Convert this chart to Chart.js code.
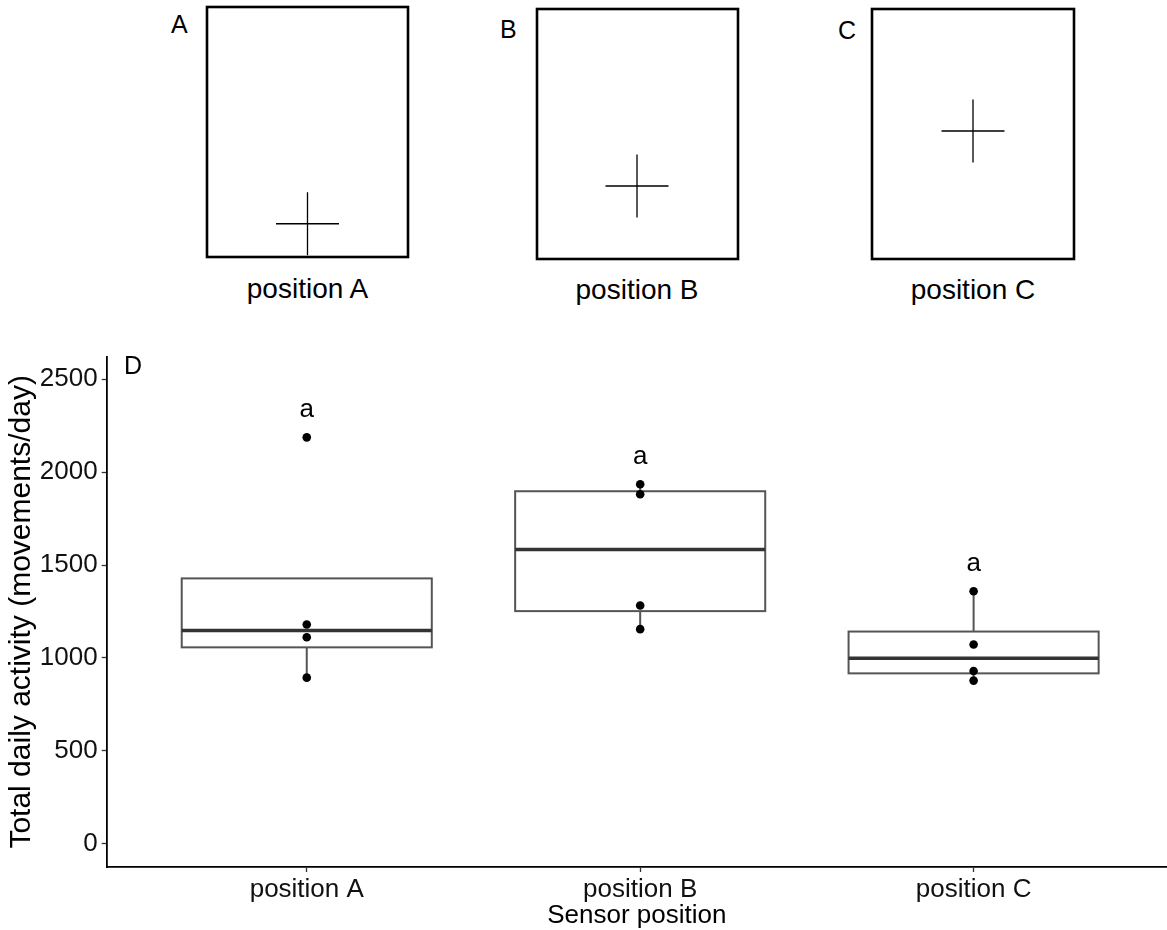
<!DOCTYPE html>
<html>
<head>
<meta charset="utf-8">
<script src="https://cdn.jsdelivr.net/npm/chart.js@4.4.1/dist/chart.umd.min.js"></script>
<style>
  html, body { margin: 0; padding: 0; background: #fff; }
  body { width: 1167px; height: 930px; position: relative; overflow: hidden;
         font-family: "Liberation Sans", Arial, sans-serif; color: #000; }
  .lbl { position: absolute; line-height: 1; white-space: nowrap; }
  canvas { position: absolute; }
</style>
</head>
<body>
<script>
// panel D: boxplot stats per sensor position (movements/day)
const groups = ["position A", "position B", "position C"];
const boxQ1 = [1057, 1252, 917];
const boxMedian = [1148, 1584, 998];
const boxQ3 = [1428, 1897, 1142];
const whiskerLow = [894, 1155, 878];
const whiskerHigh = [1428, 1935, 1359];
const pointsA = [2187, 1180, 1111, 894];
const pointsB = [1935, 1881, 1282, 1155];
const pointsC = [1359, 1072, 930, 878];
const letterText = ["a", "a", "a"];
const letterY = [2335, 2082, 1508];
const yTicks = [0, 500, 1000, 1500, 2000, 2500];

// panels A-C: where the sensor sits on the body outline (0..1 of the box)
const panelLetters = ["A", "B", "C"];
const sensorX = [0.5, 0.4975, 0.5];
const sensorY = [0.133, 0.292, 0.512];

const FONT = "'Liberation Sans', Arial, sans-serif";

function addLabel(text, x, baseline, size, align) {
  const d = document.createElement("div");
  d.className = "lbl";
  d.textContent = text;
  d.style.fontSize = size + "px";
  d.style.top = (baseline - 0.8465 * size) + "px";
  d.style.left = x + "px";
  if (align === "center") d.style.transform = "translateX(-50%)";
  document.body.appendChild(d);
}

function addCanvas(left, top, w, h) {
  const c = document.createElement("canvas");
  c.width = w; c.height = h;
  c.style.left = left + "px"; c.style.top = top + "px";
  c.style.width = w + "px"; c.style.height = h + "px";
  document.body.appendChild(c);
  return c;
}

// ---- top panels ----
const frame = {
  id: "frame",
  afterDraw(chart) {
    const { ctx, chartArea: a } = chart;
    ctx.save();
    ctx.strokeStyle = "#000";
    ctx.lineWidth = 2.6;
    ctx.strokeRect(a.left, a.top, a.right - a.left, a.bottom - a.top);
    ctx.restore();
  },
};

const panelBox = [
  { left: 207, top: 7, w: 201, h: 250 },
  { left: 537, top: 9, w: 201, h: 250 },
  { left: 872, top: 9, w: 202, h: 250 },
];
const pad = 5;

panelBox.forEach((p, i) => {
  const c = addCanvas(p.left - pad, p.top - pad, p.w + 2 * pad, p.h + 2 * pad);
  new Chart(c, {
    type: "scatter",
    data: {
      datasets: [{
        data: [{ x: sensorX[i], y: sensorY[i] }],
        pointStyle: "cross",
        pointRadius: 31.5,
        borderColor: "#000",
        borderWidth: 1.3,
      }],
    },
    options: {
      responsive: false,
      animation: false,
      events: [],
      layout: { padding: pad, autoPadding: false },
      plugins: { legend: { display: false }, tooltip: { enabled: false } },
      scales: {
        x: { display: false, min: 0, max: 1 },
        y: { display: false, min: 0, max: 1 },
      },
    },
    plugins: [frame],
  });
});

addLabel(panelLetters[0], 171, 33, 25);
addLabel(panelLetters[1], 500, 38, 25);
addLabel(panelLetters[2], 838, 39, 25);
addLabel(groups[0], 307.5, 299, 28, "center");
addLabel(groups[1], 637, 300, 28, "center");
addLabel(groups[2], 973, 300, 28, "center");

// ---- panel D ----
const boxPlot = {
  id: "boxPlot",
  beforeDatasetsDraw(chart) {
    const { ctx, scales: { x, y } } = chart;
    ctx.save();
    groups.forEach((g, i) => {
      const cx = x.getPixelForValue(i + 1);
      const l = x.getPixelForValue(i + 1 - 0.375);
      const r = x.getPixelForValue(i + 1 + 0.375);
      const top = y.getPixelForValue(boxQ3[i]);
      const bot = y.getPixelForValue(boxQ1[i]);
      ctx.strokeStyle = "#555";
      ctx.lineWidth = 2;
      ctx.beginPath();
      ctx.moveTo(cx, y.getPixelForValue(whiskerHigh[i]));
      ctx.lineTo(cx, top);
      ctx.moveTo(cx, bot);
      ctx.lineTo(cx, y.getPixelForValue(whiskerLow[i]));
      ctx.stroke();
      ctx.fillStyle = "#fff";
      ctx.fillRect(l, top, r - l, bot - top);
      ctx.strokeRect(l, top, r - l, bot - top);
      const m = y.getPixelForValue(boxMedian[i]);
      ctx.strokeStyle = "#333";
      ctx.lineWidth = 3.5;
      ctx.beginPath();
      ctx.moveTo(l, m);
      ctx.lineTo(r, m);
      ctx.stroke();
    });
    ctx.restore();
  },
  afterDatasetsDraw(chart) {
    const { ctx, scales: { x, y } } = chart;
    ctx.save();
    ctx.fillStyle = "#000";
    ctx.font = "26px " + FONT;
    ctx.textAlign = "center";
    ctx.textBaseline = "middle";
    letterText.forEach((t, i) => {
      ctx.fillText(t, x.getPixelForValue(i + 1), y.getPixelForValue(letterY[i]));
    });
    ctx.restore();
  },
};

const allPoints = [pointsA, pointsB, pointsC].flatMap((vals, i) =>
  vals.map((v) => ({ x: i + 1, y: v }))
);

const mainTop = 330;
const cD = addCanvas(0, mainTop, 1167, 600);

new Chart(cD, {
  type: "scatter",
  data: {
    datasets: [{
      data: allPoints,
      pointRadius: 4.3,
      backgroundColor: "#000",
      borderWidth: 0,
    }],
  },
  options: {
    responsive: false,
    animation: false,
    events: [],
    layout: { padding: { top: 356.7 - mainTop, right: 0, left: 0, bottom: 0 }, autoPadding: false },
    plugins: { legend: { display: false }, tooltip: { enabled: false } },
    scales: {
      x: {
        min: 0.4,
        max: 3.58,
        afterFit: (s) => { s.height = 930 - 867; },
        afterBuildTicks: (s) => { s.ticks = groups.map((g, i) => ({ value: i + 1 })); },
        ticks: {
          callback: (v) => groups[v - 1],
          font: { family: FONT, size: 26 },
          color: "#111",
          padding: 2,
          maxRotation: 0,
        },
        grid: { drawOnChartArea: false, tickLength: 5, tickColor: "#333", tickWidth: 1.3 },
        border: { color: "#000", width: 1.8 },
        title: {
          display: true,
          text: "Sensor position",
          font: { family: FONT, size: 26, lineHeight: 1 },
          color: "#000",
          padding: { top: 0, bottom: 1 },
        },
      },
      y: {
        min: -125,
        max: 2621,
        afterFit: (s) => { s.width = 106.7; },
        afterBuildTicks: (s) => { s.ticks = yTicks.map((v) => ({ value: v })); },
        ticks: {
          callback: (v) => String(v),
          font: { family: FONT, size: 26 },
          color: "#111",
          padding: 4,
        },
        grid: { drawOnChartArea: false, tickLength: 5, tickColor: "#333", tickWidth: 1.3 },
        border: { color: "#000", width: 1.8 },
        title: {
          display: true,
          text: "Total daily activity (movements/day)",
          font: { family: FONT, size: 30, lineHeight: 1.2 },
          color: "#000",
          padding: { top: 4, bottom: 0 },
        },
      },
    },
  },
  plugins: [boxPlot],
});

addLabel("D", 124, 374, 25);
</script>
</body>
</html>
